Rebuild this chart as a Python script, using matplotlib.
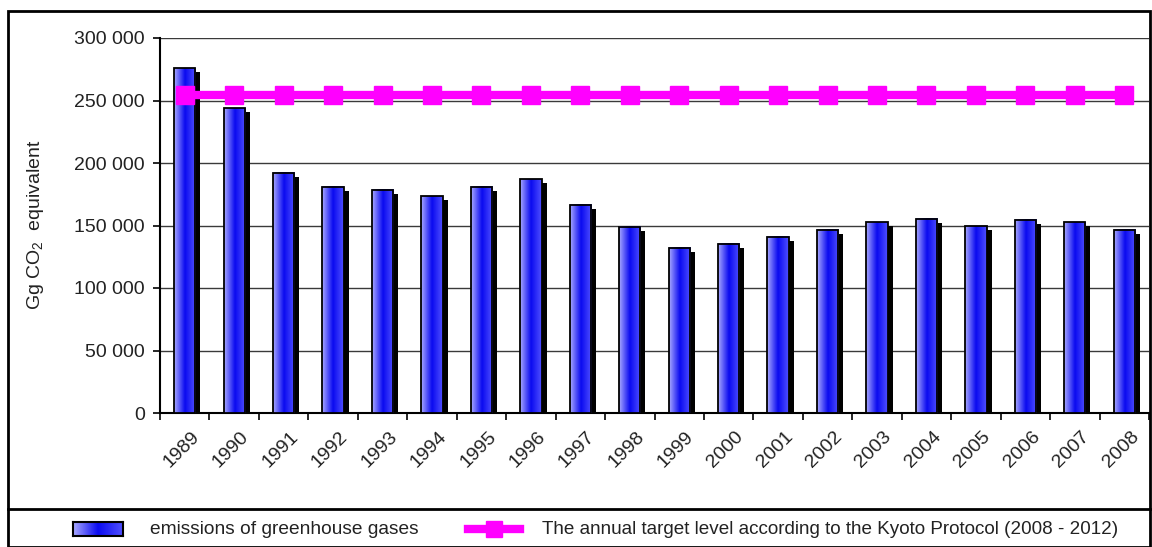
import numpy as np
import matplotlib.pyplot as plt
from matplotlib.patches import Rectangle
from matplotlib.lines import Line2D
from matplotlib.transforms import ScaledTranslation
from matplotlib.colors import LinearSegmentedColormap
from matplotlib.ticker import FuncFormatter

plt.rcParams['font.family'] = ['Liberation Sans', 'DejaVu Sans']
plt.rcParams['mathtext.default'] = 'regular'

# data (Gg CO2 equivalent)
years = ['1989', '1990', '1991', '1992', '1993', '1994', '1995', '1996', '1997', '1998',
         '1999', '2000', '2001', '2002', '2003', '2004', '2005', '2006', '2007', '2008']
emissions = [276000, 244000, 192000, 181000, 178500, 173500, 181000, 187000, 166500, 149000,
             132000, 135500, 141000, 146500, 152500, 155500, 149500, 154500, 152500, 146500]
kyoto_target = [254500, 254500, 254500, 254500, 254500, 254500, 254500, 254500, 254500, 254500,
                254500, 254500, 254500, 254500, 254500, 254500, 254500, 254500, 254500, 254500]

W, H = 1152, 547
fig = plt.figure(figsize=(W / 100, H / 100), dpi=100)
ax = fig.add_axes([160 / W, 1 - 413 / H, (1149 - 160) / W, (413 - 38) / H])

x = np.arange(len(years))
bar_w = 0.43

# gradient fill for the bars
cmap = LinearSegmentedColormap.from_list('bars', [(0.0, '#a8a8ff'), (0.5, '#0a0af0'), (1.0, '#5050ff')])
grad = cmap(np.linspace(0, 1, 64))[None, :, :]
shadow_tr = ax.transData + ScaledTranslation(5 / 100, -4 / 100, fig.dpi_scale_trans)

for xi, v in zip(x, emissions):
    ax.add_patch(Rectangle((xi - bar_w / 2, 0), bar_w, v, facecolor='black',
                           edgecolor='none', transform=shadow_tr, zorder=2))
    ax.imshow(grad, extent=(xi - bar_w / 2, xi + bar_w / 2, 0, v), aspect='auto',
              interpolation='bilinear', zorder=3)
    ax.add_patch(Rectangle((xi - bar_w / 2, 0), bar_w, v, fill=False,
                           edgecolor='black', lw=1.3, zorder=4))

ax.plot(x, kyoto_target, color='#ff00ff', lw=6, marker='s', ms=13, zorder=5)

ax.set_xlim(-0.5, len(years) - 0.5)
ax.set_ylim(0, 300000)
ax.set_yticks(np.arange(0, 300001, 50000))
ax.yaxis.set_major_formatter(FuncFormatter(lambda v, p: f'{int(v):,}'.replace(',', ' ')))
ax.yaxis.grid(True, color='#3a3a3a', lw=1)
ax.set_axisbelow(True)

ax.set_xticks(x)
ax.set_xticklabels(years, rotation=45, ha='right', va='top', rotation_mode='anchor')
ax.set_xticks(np.arange(-0.5, len(years)), minor=True)
ax.tick_params(axis='x', which='major', length=0, pad=11, labelsize=14, labelcolor='#222222')
ax.tick_params(axis='x', which='minor', length=5, width=1.2, color='black')
ax.tick_params(axis='y', length=5, width=1.2, pad=6, labelsize=14, labelcolor='#222222')
offset = ScaledTranslation(6 / 100, 0, fig.dpi_scale_trans)
for lbl in ax.get_xticklabels():
    lbl.set_transform(lbl.get_transform() + offset)

for s in ['top', 'right']:
    ax.spines[s].set_visible(False)
for s in ['left', 'bottom']:
    ax.spines[s].set_linewidth(1.5)

fig.text(36 / W, 1 - 225 / H, 'Gg CO$_2$  equivalent', rotation=90, ha='center', va='center',
         fontsize=14, color='#222222')

# outer frame and legend strip
fig.add_artist(Rectangle((8 / W, 0.5 / H), (1150 - 8) / W, (H - 11.5) / H, transform=fig.transFigure,
                         fill=False, edgecolor='black', lw=2))
fig.add_artist(Line2D([8 / W, 1150 / W], [1 - 509 / H] * 2, color='black', lw=2))

ly = 1 - 529 / H
lax = fig.add_axes([73 / W, 1 - 536 / H, 50 / W, 14 / H])
lax.imshow(grad, aspect='auto', extent=(0, 1, 0, 1), interpolation='bilinear')
lax.set_xticks([])
lax.set_yticks([])
for s in lax.spines.values():
    s.set_linewidth(1.5)
fig.text(150 / W, ly, 'emissions of greenhouse gases', fontsize=13.8, color='#222222', va='center')

fig.add_artist(Line2D([468 / W, 520 / W], [ly, ly], color='#ff00ff', lw=6))
fig.add_artist(Line2D([494 / W], [ly], color='#ff00ff', marker='s', ms=11, lw=0))
fig.text(542 / W, ly, 'The annual target level according to the Kyoto Protocol (2008 - 2012)',
         fontsize=13.6, color='#222222', va='center')

fig.savefig('out.png', dpi=100)
